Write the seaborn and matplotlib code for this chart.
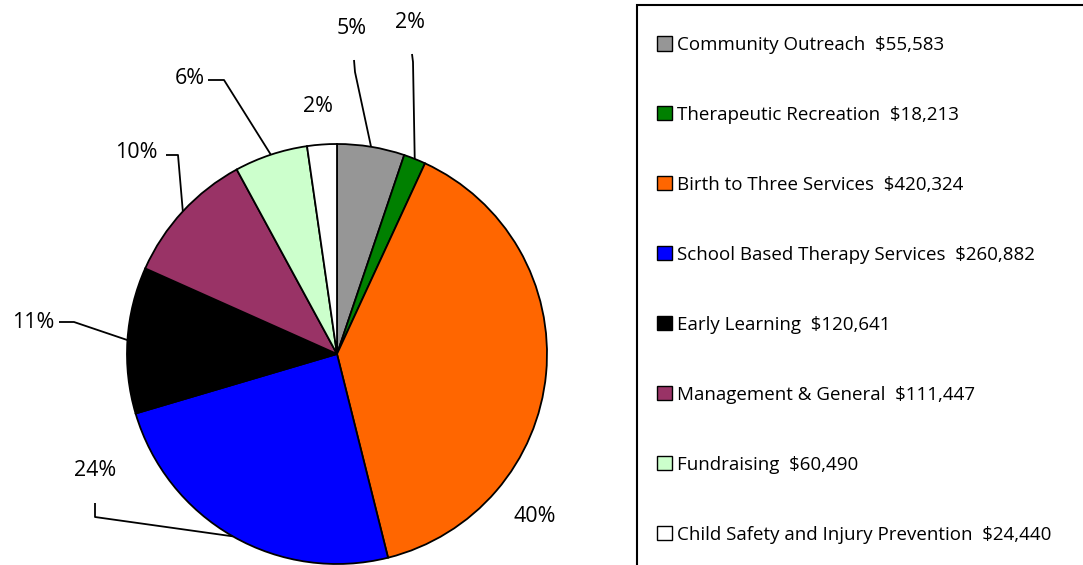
import matplotlib
matplotlib.use("Agg")
import matplotlib.pyplot as plt
import seaborn as sns
import numpy as np
from matplotlib.patches import Rectangle

# data
categories = ["Community Outreach", "Therapeutic Recreation", "Birth to Three Services",
              "School Based Therapy Services", "Early Learning", "Management & General",
              "Fundraising", "Child Safety and Injury Prevention"]
amounts = [55583, 18213, 420324, 260882, 120641, 111447, 60490, 24440]
pct_labels = ["5%", "2%", "40%", "24%", "11%", "10%", "6%", "2%"]
colors = ["#969696", "#008000", "#FF6600", "#0000FF", "#000000", "#993366", "#CCFFCC", "#FFFFFF"]

sns.set_style("white")
plt.rcParams['font.family'] = ['Open Sans', 'DejaVu Sans']
plt.rcParams['text.color'] = 'black'

W, H = 1083, 565
fig = plt.figure(figsize=(W / 100, H / 100), dpi=100)
ax = fig.add_axes([0, 0, 1, 1])

cx, cy, r = 337, H - 354, 210
wedges, _ = ax.pie(amounts, colors=colors, startangle=90, counterclock=False,
                   center=(cx, cy), radius=r,
                   wedgeprops=dict(edgecolor="black", linewidth=1.3))
ax.set_xlim(0, W)
ax.set_ylim(0, H)
ax.set_aspect("equal")
ax.axis("off")

# label layout in image pixels: text centre, leader path (text side -> elbow), None = no leader
label_pos = [(352, 28), (410, 22), (535, 517), (95, 470), (33, 322), (136, 153), (190, 78), (318, 107)]
leaders = [
    [(354, 60), (355, 72)],
    [(412, 54), (413, 62)],
    None,
    [(95, 503), (95, 517)],
    [(59, 322), (74, 322)],
    [(166, 155), (178, 155)],
    [(208, 80), (224, 80)],
    None,
]

for w, lab, (tx, ty), path in zip(wedges, pct_labels, label_pos, leaders):
    ax.text(tx, H - ty, lab, ha="center", va="center", fontsize=15.5, color="black")
    if path is None:
        continue
    mid = np.deg2rad((w.theta1 + w.theta2) / 2)
    rim = (cx + r * np.cos(mid), cy + r * np.sin(mid))
    xs = [p[0] for p in path] + [rim[0]]
    ys = [H - p[1] for p in path] + [rim[1]]
    ax.plot(xs, ys, color="black", lw=1.3, solid_capstyle="butt")

# legend frame runs off the right and bottom edges
ax.add_patch(Rectangle((637, -10), 500, H - 5 + 10, facecolor="none", edgecolor="black", lw=1.5,
                       clip_on=False))

labels = [f"{c}  ${a:,}" for c, a in zip(categories, amounts)]
leg = ax.legend(wedges, labels, loc="upper left", bbox_to_anchor=(657 / W, 1 - 36 / H),
                bbox_transform=fig.transFigure, frameon=False, fontsize=13.5,
                handlelength=0.78, handleheight=0.78, handletextpad=0.3,
                labelspacing=2.77, borderaxespad=0, borderpad=0, labelcolor="black")
for h in leg.legend_handles:
    h.set_linewidth(1.0)

fig.savefig("out.png", dpi=100)
